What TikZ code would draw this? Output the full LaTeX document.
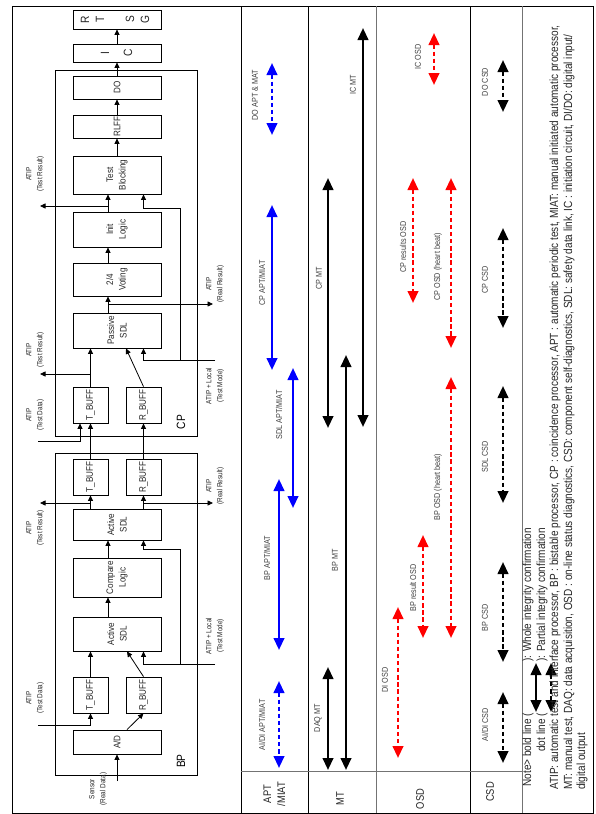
\documentclass[tikz,border=0pt]{standalone}
\usepackage{fontspec}
\setmainfont{Liberation Sans}
\newfontfamily\narrowsans[FakeStretch=0.85]{Liberation Sans}
\usetikzlibrary{arrows.meta,calc}

% box with a rotated caption in its middle
\newcommand\blkbox[6]{%
  \node[blk, minimum width=#4pt, minimum height=#5pt] (#1) at (#2,#3) {};
  \node[btxt] (#1-t) at (#1.center) {#6};}
% vertical double-headed bar of the schedule table: style, name, x, y1, y2
\newcommand\tblarrow[5]{%
  \coordinate (#2-a) at (#3,#4);
  \coordinate (#2-b) at (#3,#5);
  \draw[#1] (#2-a) -- (#2-b);}

\tikzset{
  blk/.style={draw, line width=0.8pt, inner sep=0pt},
  btxt/.style={rotate=90, align=center, inner sep=0pt, text=black!85,
    font=\narrowsans\fontsize{9.5}{12.5}\selectfont},
  bigletter/.style={rotate=90, inner sep=0pt, text=black!85,
    font=\narrowsans\fontsize{12}{12}\selectfont},
  flow/.style={line width=0.8pt, -{Triangle[width=5pt,length=5.5pt]}},
  grp/.style={draw, line width=0.8pt, inner sep=0pt},
  sig/.style={rotate=90, align=center, inner sep=0pt, text=black!85,
    font=\narrowsans\fontsize{7.5}{11}\selectfont},
  grpname/.style={rotate=90, inner sep=0pt, font=\narrowsans\fontsize{12}{12}\selectfont},
  tag/.style={rotate=90, inner sep=0pt, text=black!75,
    font=\narrowsans\fontsize{8.5}{10}\selectfont},
  head/.style={rotate=90, align=center, inner sep=0pt, text=black!85,
    font=\narrowsans\fontsize{11}{14}\selectfont},
  note/.style={rotate=90, inner sep=0pt, text=black!85,
    font=\narrowsans\fontsize{11.8}{13}\selectfont},
  solidA/.style={line width=2.4pt,
    {Triangle[width=10.5pt,length=12pt]}-{Triangle[width=10.5pt,length=12pt]}},
  dotA/.style={solidA, dash pattern=on 4.3pt off 2.8pt},
  rule/.style={line width=0.8pt},
  softrule/.style={line width=0.9pt, black!55},
}

\begin{document}
\begin{tikzpicture}[x=1pt,y=-1pt]
\useasboundingbox (0,0) rectangle (596,814);
\fill[white] (0,0) rectangle (596,814);

% ---------- frame and table grid ----------
\draw[rule] (12,6) rectangle (593,813);
\draw[rule] (241,6) -- (241,813);
\draw[rule] (308,6) -- (308,813);
\draw[softrule] (376,6) -- (376,813);
\draw[rule] (470,6) -- (470,813);
\draw[softrule] (522,6) -- (522,813);
\draw[softrule] (241,771) -- (522,771);

% ---------- processor groups ----------
\node[grp, minimum width=142pt, minimum height=366pt] (cpbox) at (126,253) {};
\node[grp, minimum width=142pt, minimum height=322pt] (bpbox) at (126,614) {};
\node[grpname] (cpname) at (181,422) {CP};
\node[grpname] (bpname) at (181,761) {BP};

% ---------- function blocks ----------
\node[blk, minimum width=88pt, minimum height=19pt] (rtsg) at (117,19.5) {};
\node[bigletter] (rtsg-1) at (85,19.5) {R};
\node[bigletter] (rtsg-2) at (100,19.5) {T};
\node[bigletter] (rtsg-3) at (130,19.5) {S};
\node[bigletter] (rtsg-4) at (145,19.5) {G};
\node[blk, minimum width=88pt, minimum height=18pt] (ic) at (117,53) {};
\node[bigletter] (ic-1) at (105,53) {I};
\node[bigletter] (ic-2) at (128,53) {C};
\blkbox{do}{117}{87.5}{88}{23}{DO}
\blkbox{rl}{117}{126.5}{88}{23}{RLFF}
\blkbox{tb}{117}{175}{88}{38}{Test\\Blocking}
\blkbox{init}{117}{229.5}{88}{35}{Init\\Logic}
\blkbox{vote}{117}{279.5}{88}{33}{2/4\\Voting}
\blkbox{ps}{117}{330.5}{88}{35}{Passive\\SDL}
\blkbox{cptb}{90.5}{405}{35}{36}{T\_BUFF}
\blkbox{cprb}{143.5}{405}{35}{36}{R\_BUFF}
\blkbox{bptb2}{90.5}{477}{35}{36}{T\_BUFF}
\blkbox{bprb2}{143.5}{477}{35}{36}{R\_BUFF}
\blkbox{as2}{117}{524.5}{88}{31}{Active\\SDL}
\blkbox{cmp}{117}{577.5}{88}{39}{Compare\\Logic}
\blkbox{as1}{117}{634}{88}{34}{Active\\SDL}
\blkbox{bptb1}{90.5}{695}{35}{36}{T\_BUFF}
\blkbox{bprb1}{143.5}{695}{35}{36}{R\_BUFF}
\blkbox{ad}{117}{742}{88}{24}{A/D}

% ---------- BP signal flow ----------
\coordinate (sens) at (117,781);
\draw[flow] (sens) -- (ad.south);
\draw[flow] ($(ad.north)+(10,0)$) -- (bprb1.south);
\coordinate (tdb) at (38,725);
\draw[flow] (tdb) -| (bptb1.south);
\draw[flow] (bptb1.north) -- (bptb1.north |- as1.south);
\draw[flow] (bprb1.north) -- ($(as1.south)+(10,0)$);
\coordinate (tmb) at (215,664);
\draw[flow] (tmb) -| (as1.south -| bprb1.north);
\coordinate (tmbj) at (180,664);
\coordinate (tmbk) at (143.5,549);
\draw[flow] (tmbj) |- (tmbk) -- (tmbk |- as2.south);
\draw[flow] ($(as1.north)+(-9,0)$) -- ($(cmp.south)+(-9,0)$);
\draw[flow] ($(cmp.north)+(-9,0)$) -- ($(as2.south)+(-9,0)$);
\draw[flow] (as2.north -| bptb2.south) -- (bptb2.south);
\draw[flow] (as2.north -| bprb2.south) -- (bprb2.south);
\coordinate (trb) at (40,503);
\coordinate (rrb) at (213,503);
\draw[flow] (bptb2.south |- trb) -- (trb);
\draw[flow] (bprb2.south |- rrb) -- (rrb);

% ---------- BP to CP ----------
\draw[flow] (bptb2.north) -- (cptb.south);
\draw[flow] (bprb2.north) -- (cprb.south);

% ---------- CP signal flow ----------
\coordinate (tdc) at (38,441);
\draw[flow] (tdc) -| ($(cptb.south)+(-10.5,0)$);
\draw[flow] (cptb.north) -- (cptb.north |- ps.south);
\coordinate (trc) at (40,374);
\draw[flow] (cptb.north |- trc) -- (trc);
\draw[flow] (cprb.north) -- ($(ps.south)+(9,0)$);
\coordinate (tmc) at (215,360);
\draw[flow] (tmc) -| (ps.south -| cprb.north);
\coordinate (tmcj) at (180,360);
\coordinate (tmck) at (143.5,208);
\draw[flow] (tmcj) |- (tmck) -- (tmck |- tb.south);
\coordinate (psx) at ($(ps.north)+(-9,0)$);
\draw[flow] (psx) -- (psx |- vote.south);
\coordinate (rrc) at (213,304);
\draw[flow] (psx |- rrc) -- (rrc);
\draw[flow] (psx |- vote.north) -- (psx |- init.south);
\draw[flow] (psx |- init.north) -- (psx |- tb.south);
\coordinate (trt) at (40,206);
\draw[flow] (psx |- trt) -- (trt);
\draw[flow] (tb.north) -- (rl.south);
\draw[flow] (rl.north) -- (do.south);
\draw[flow] (do.north) -- (ic.south);
\draw[flow] (ic.north) -- (rtsg.south);

% ---------- signal captions ----------
\node[sig] (l-trt) at (35,174) {ATIP\\(Test Result)};
\node[sig] (l-rrc) at (215,284) {ATIP\\(Real Result)};
\node[sig] (l-trc) at (35,350) {ATIP\\(Test Result)};
\node[sig] (l-tmc) at (215,386) {ATIP + Local\\(Test Mode)};
\node[sig] (l-tdc) at (35,415) {ATIP\\(Test Data)};
\node[sig] (l-rrb) at (215,486) {ATIP\\(Real Result)};
\node[sig] (l-trb) at (35,528) {ATIP\\(Test Result)};
\node[sig] (l-tmb) at (215,636) {ATIP + Local\\(Test Mode)};
\node[sig] (l-tdb) at (35,698) {ATIP\\(Test Data)};
\node[sig] (l-sen) at (98,789) {Sensor\\(Real Data)};

% ---------- APT / MIAT column ----------
\tblarrow{dotA, blue}{ap1}{272}{63}{135}
\node[tag] (ap1-l) at (255,95) {DO APT \& MAT};
\tblarrow{solidA, blue}{ap2}{272}{205}{370}
\node[tag] (ap2-l) at (262,283) {CP APT/MIAT};
\tblarrow{solidA, blue}{ap3}{293}{368}{508}
\node[tag] (ap3-l) at (279,415) {SDL APT/MIAT};
\tblarrow{solidA, blue}{ap4}{279}{479}{650}
\node[tag] (ap4-l) at (267,558) {BP APT/MIAT};
\tblarrow{dotA, blue}{ap5}{279}{681}{768}
\node[tag] (ap5-l) at (262,725) {AI/DI APT/MIAT};

% ---------- MT column ----------
\tblarrow{solidA}{mt1}{363}{28}{427}
\node[tag] (mt1-l) at (353,85) {IC MT};
\tblarrow{solidA}{mt2}{328}{178}{428}
\node[tag] (mt2-l) at (319,278) {CP MT};
\tblarrow{solidA}{mt3}{346}{355}{770}
\node[tag] (mt3-l) at (335,560) {BP MT};
\tblarrow{solidA}{mt4}{328}{667}{770}
\node[tag] (mt4-l) at (318,718) {DAQ MT};

% ---------- OSD column ----------
\tblarrow{dotA, red}{os1}{434}{33}{85}
\node[tag] (os1-l) at (418,57) {IC OSD};
\tblarrow{dotA, red}{os2}{413}{178}{303}
\node[tag] (os2-l) at (403,247) {CP results OSD};
\tblarrow{dotA, red}{os3}{451}{178}{348}
\node[tag] (os3-l) at (438,267) {CP OSD (heart beat)};
\tblarrow{dotA, red}{os4}{451}{377}{638}
\node[tag] (os4-l) at (438,487) {BP OSD (heart beat)};
\tblarrow{dotA, red}{os5}{423}{535}{638}
\node[tag] (os5-l) at (413,588) {BP result OSD};
\tblarrow{dotA, red}{os6}{398}{607}{758}
\node[tag] (os6-l) at (385,680) {DI OSD};

% ---------- CSD column ----------
\tblarrow{dotA}{cs1}{503}{60}{112}
\node[tag] (cs1-l) at (485,82) {DO CSD};
\tblarrow{dotA}{cs2}{503}{228}{328}
\node[tag] (cs2-l) at (485,280) {CP CSD};
\tblarrow{dotA}{cs3}{503}{386}{503}
\node[tag] (cs3-l) at (485,457) {SDL CSD};
\tblarrow{dotA}{cs4}{503}{562}{662}
\node[tag] (cs4-l) at (485,618) {BP CSD};
\tblarrow{dotA}{cs5}{503}{692}{763}
\node[tag] (cs5-l) at (485,725) {AI/DI CSD};

% ---------- column headings ----------
\node[head] (h-apt) at (274.5,794) {APT\\/MIAT};
\node[head] (h-mt) at (340,799) {MT};
\node[head] (h-osd) at (420,799) {OSD};
\node[head] (h-csd) at (490,792) {CSD};

% ---------- legend and abbreviations ----------
\node[note, anchor=east] (n1a) at (528,713) {Note> bold line (};
\node[note, anchor=west] (n1b) at (528,662) {): Whole integrity confirmation};
\node[note, anchor=east] (n2a) at (542,713) {dot line (};
\node[note, anchor=west] (n2b) at (542,662) {): Partial integrity confirmation};
\tblarrow{solidA}{kb}{536}{712}{663}
\tblarrow{dotA}{kd}{551}{712}{663}
\node[note, anchor=west] (n3) at (555,790) {ATIP: automatic test and interface processor, BP : bistable processor, CP : coincidence processor, APT : automatic periodic test, MIAT: manual initiated automatic processor,};
\node[note, anchor=west] (n4) at (569,790) {MT: manual test, DAQ: data acquisition, OSD : on-line status diagnostics, CSD: component self-diagnostics, SDL: safety data link, IC : initiation circuit, DI/DO: digital input/};
\node[note, anchor=west] (n5) at (582,790) {digital output};
\end{tikzpicture}
\end{document}
